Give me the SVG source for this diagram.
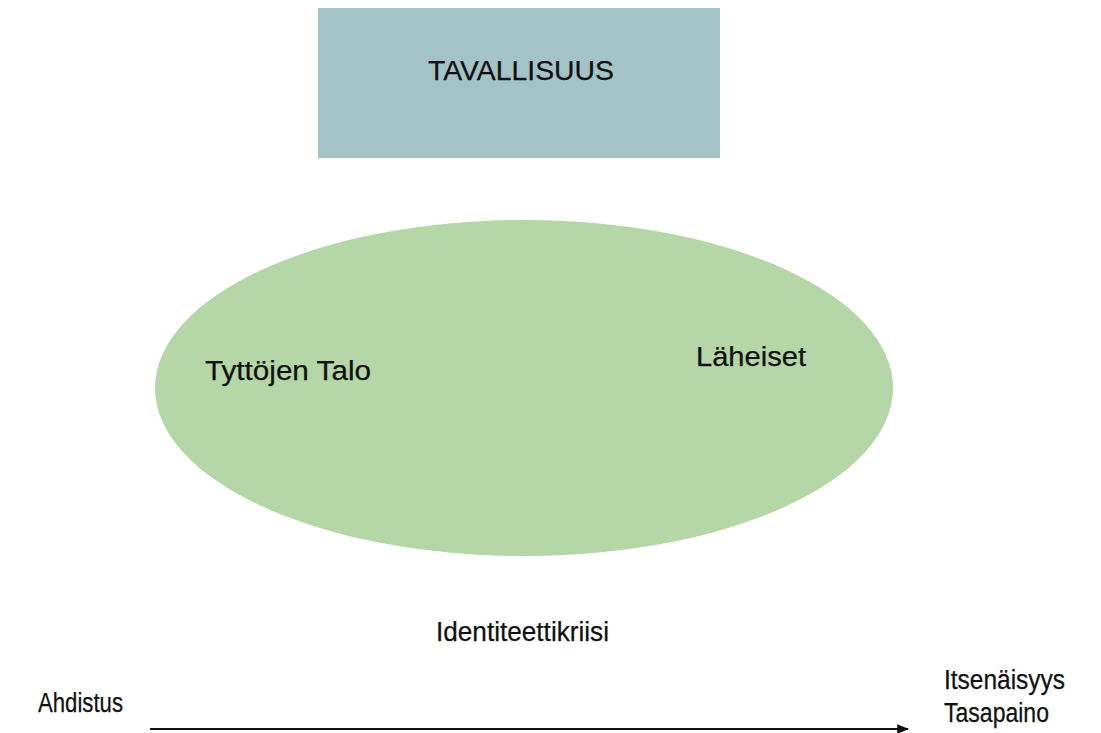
<svg xmlns="http://www.w3.org/2000/svg" width="1101" height="733" viewBox="0 0 1101 733">
  <style>
    .label { font-family: "Liberation Sans", Arial, sans-serif; font-size: 27px; fill: #111; stroke: #111; stroke-width: 0.25; }
    .link { stroke: #111; stroke-width: 2; fill: none; }
  </style>
  <defs>
    <marker id="arrowhead" viewBox="0 0 10 10" refX="9" refY="5" markerWidth="6" markerHeight="6" orient="auto" markerUnits="strokeWidth">
      <path d="M0,1 L10,5 L0,9 z" fill="#111"/>
    </marker>
  </defs>
  <rect width="1101" height="733" fill="#ffffff"/>

  <g id="tavallisuus">
    <rect x="318" y="8" width="402" height="150" fill="#a4c3c6"/>
    <text class="label" x="428" y="80" textLength="186" lengthAdjust="spacingAndGlyphs">TAVALLISUUS</text>
  </g>

  <g id="arki">
    <ellipse cx="524" cy="388" rx="369" ry="168" fill="#b5d6a7"/>
    <text class="label" x="205" y="380" textLength="166" lengthAdjust="spacingAndGlyphs">Tyttöjen Talo</text>
    <text class="label" x="696" y="366" textLength="110" lengthAdjust="spacingAndGlyphs">Läheiset</text>
  </g>

  <g id="identiteettikriisi">
    <text class="label" x="436" y="641" textLength="173" lengthAdjust="spacingAndGlyphs">Identiteettikriisi</text>
  </g>

  <g id="ahdistus">
    <text class="label" x="38" y="712" textLength="85" lengthAdjust="spacingAndGlyphs">Ahdistus</text>
  </g>

  <g id="itsenaisyys">
    <text class="label" x="944" y="689" textLength="121" lengthAdjust="spacingAndGlyphs">Itsenäisyys</text>
    <text class="label" x="944" y="722" textLength="105" lengthAdjust="spacingAndGlyphs">Tasapaino</text>
  </g>

  <g id="connectors">
    <line class="link" x1="150" y1="729" x2="908" y2="729" marker-end="url(#arrowhead)"/>
  </g>
</svg>
